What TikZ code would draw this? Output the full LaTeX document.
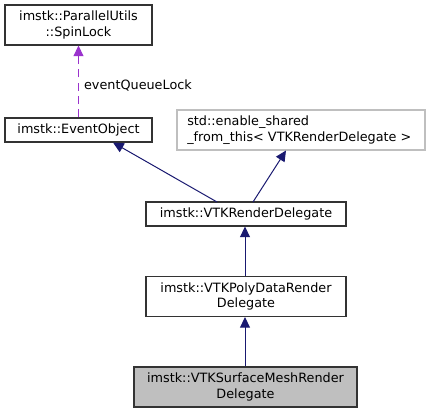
\documentclass[tikz,border=0pt]{standalone}
\usepackage{fontspec}
\setmainfont{DejaVu Sans}
\usetikzlibrary{arrows.meta}
\definecolor{edgeblue}{HTML}{191970}
\definecolor{edgepurple}{HTML}{9A32CD}
\definecolor{boxgray}{HTML}{BFBFBF}
\tikzset{
  lbltext/.style={font=\fontsize{9.6}{11.5}\selectfont},
  cls/.style={draw=black!80, line width=0.8pt, inner sep=0pt, align=center, lbltext},
  ext/.style={draw=boxgray, line width=0.8pt, inner sep=0pt, lbltext},
  inh/.style={draw=edgeblue, line width=0.75pt, -{Triangle[length=8pt,width=7.5pt]}},
  usage/.style={draw=edgepurple, line width=0.75pt, dash pattern=on 6pt off 4pt, -{Triangle[length=8pt,width=7.5pt]}},
}
\begin{document}
\begin{tikzpicture}[x=0.75pt,y=-0.75pt]
\useasboundingbox (0,0) rectangle (432,413);
\node[cls, minimum width=147*0.75pt, minimum height=40*0.75pt] (spin) at (78.5,25) {imstk::ParallelUtils\\::SpinLock};
\node[cls, minimum width=147*0.75pt, minimum height=24*0.75pt] (evt) at (78.5,130) {imstk::EventObject};
\node[ext, minimum width=248*0.75pt, minimum height=40*0.75pt] (esf) at (301,130) {};
\node[lbltext, anchor=west, align=left, inner sep=0pt] (esft) at (187,130) {std::enable\_shared\\\_from\_this< VTKRenderDelegate >};
\node[cls, minimum width=200*0.75pt, minimum height=24*0.75pt] (vrd) at (246,214) {imstk::VTKRenderDelegate};
\node[cls, minimum width=200*0.75pt, minimum height=40*0.75pt] (vpd) at (246,296.5) {imstk::VTKPolyDataRender\\Delegate};
\node[cls, fill=boxgray, minimum width=223*0.75pt, minimum height=40*0.75pt] (vsm) at (245.5,387) {imstk::VTKSurfaceMeshRender\\Delegate};
\draw[usage] (evt.north -| 78.5,0) -- node[right=0.5pt, lbltext, pos=0.45] (lbl) {eventQueueLock} (spin.south -| 78.5,0);
\draw[inh] (217,202) -- (113,142.5);
\draw[inh] (253,202) -- (286,150.5);
\draw[inh] (vpd.north -| 245,0) -- (vrd.south -| 245,0);
\draw[inh] (vsm.north -| 245,0) -- (vpd.south -| 245,0);
\end{tikzpicture}
\end{document}
